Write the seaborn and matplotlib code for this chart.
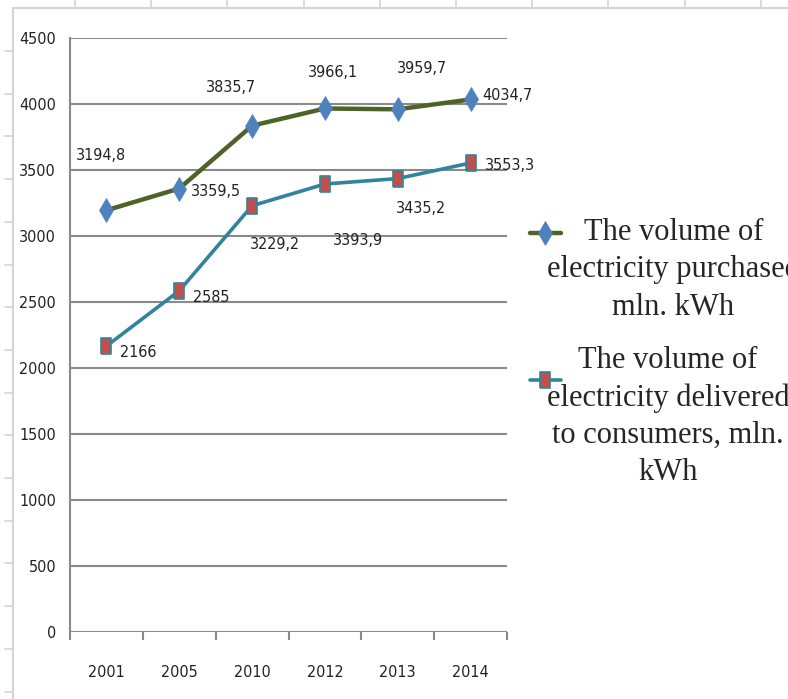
import numpy as np
import pandas as pd
import seaborn as sns
import matplotlib.pyplot as plt
from matplotlib.lines import Line2D
from matplotlib.ticker import FixedLocator

# data
years = ["2001", "2005", "2010", "2012", "2013", "2014"]
purchased = [3194.8, 3359.5, 3835.7, 3966.1, 3959.7, 4034.7]
delivered = [2166, 2585, 3229.2, 3393.9, 3435.2, 3553.3]
# two leading blank lines lift the legend marker towards the first text line
label_purchased = "\n\nThe volume of\nelectricity purchased\nmln. kWh"
label_delivered = "\n\nThe volume of\nelectricity delivered\nto consumers, mln.\nkWh"

# label offsets in pixels (dx, dy) from each point
off_purchased = [(-5, 55), (37, -3), (-21, 38), (8, 36), (24, 41), (37, 4)]
off_delivered = [(32, -6), (32, -7), (23, -39), (33, -56), (23, -30), (39, -3)]

sns.set_style("white")
plt.rcParams["font.family"] = ["DejaVu Sans"]
plt.rcParams["font.stretch"] = "condensed"

fig = plt.figure(figsize=(7.88, 6.99), dpi=100)
ax = fig.add_axes([70 / 788, 1 - 632 / 699, 437 / 788, 594 / 699])

df = pd.DataFrame({"pos": np.arange(len(years)),
                   "purchased": purchased,
                   "delivered": delivered})

sns.lineplot(data=df, x="pos", y="purchased", ax=ax, color="#4f6228", lw=3.2,
             marker="d", markersize=12, markerfacecolor="#4f81bd",
             markeredgecolor="#4f81bd", markeredgewidth=0.5,
             label=label_purchased, zorder=4)
rect = [(-0.7, -1), (0.7, -1), (0.7, 1), (-0.7, 1), (-0.7, -1)]
sns.lineplot(data=df, x="pos", y="delivered", ax=ax, color="#31849b", lw=2.6,
             marker=rect, markersize=11, markerfacecolor="#c0504d",
             markeredgecolor="#31849b", markeredgewidth=1.2,
             label=label_delivered, zorder=4)

def fmt(v):
    s = f"{v:.1f}".replace(".", ",")
    return s[:-2] if s.endswith(",0") else s

for vals, offs in [(purchased, off_purchased), (delivered, off_delivered)]:
    for i, (v, (dx, dy)) in enumerate(zip(vals, offs)):
        ax.annotate(fmt(v), (i, v), xytext=(dx * 0.72, dy * 0.72),
                    textcoords="offset points", ha="center", va="center",
                    fontsize=11.5, color="#222222", zorder=5)

ax.set_xlim(-0.5, len(years) - 0.5)
ax.set_ylim(0, 4500)
ax.set_yticks(np.arange(0, 4501, 500))
ax.set_xticks(np.arange(len(years)))
ax.set_xticklabels(years)
ax.xaxis.set_minor_locator(FixedLocator(np.arange(-0.5, len(years), 1)))
ax.set_xlabel("")
ax.set_ylabel("")
ax.grid(axis="y", color="#8a8a8a", lw=1.5)
ax.set_axisbelow(True)
for s in ["top", "right", "bottom"]:
    ax.spines[s].set_visible(False)
ax.spines["left"].set_color("#8a8a8a")
ax.spines["left"].set_linewidth(1.5)
ax.tick_params(axis="y", length=6, width=1.5, color="#8a8a8a", pad=4,
               labelsize=11.5, labelcolor="#222222")
ax.tick_params(axis="x", which="major", length=0, pad=24,
               labelsize=11.5, labelcolor="#222222")
ax.tick_params(axis="x", which="minor", length=6, width=1.5, color="#8a8a8a",
               bottom=True)

leg = ax.legend(loc="center left", bbox_to_anchor=(530 / 788, 0.549),
                bbox_transform=fig.transFigure, frameon=False,
                prop={"family": "Liberation Serif", "size": 22,
                      "stretch": "normal"},
                handlelength=1.0, handletextpad=-0.45, borderpad=0,
                borderaxespad=0, labelspacing=-1.63)
for t in leg.get_texts():
    t.set_multialignment("center")
    t.set_linespacing(1.37)

# spreadsheet cell borders behind the chart
gc = "#d4d4d4"
fig.add_artist(Line2D([13 / 788, 1], [1 - 8 / 699] * 2, color=gc, lw=1.5))
fig.add_artist(Line2D([13 / 788] * 2, [0, 1 - 8 / 699], color=gc, lw=1.5))
for y in np.arange(51, 699, 42.7):
    fig.add_artist(Line2D([5 / 788, 13 / 788], [1 - y / 699] * 2, color=gc, lw=1.2))
for x in np.arange(75, 788, 76.2):
    fig.add_artist(Line2D([x / 788] * 2, [1, 1 - 8 / 699], color=gc, lw=1.2))

fig.savefig("out.png", dpi=100)
